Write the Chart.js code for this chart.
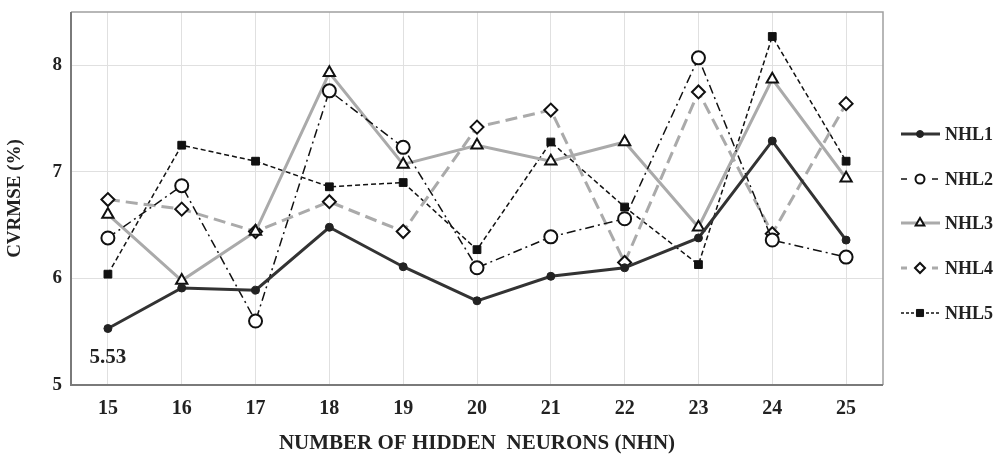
<!DOCTYPE html>
<html>
<head>
<meta charset="utf-8">
<script src="https://cdn.jsdelivr.net/npm/chart.js@4.4.0/dist/chart.umd.min.js"></script>
<style>
  html, body { margin: 0; padding: 0; background: #fff; }
  #wrap { width: 997px; height: 456px; position: relative; }
</style>
</head>
<body>
<div id="wrap"><canvas id="chart"></canvas></div>
<script>
// data
const neurons = ['15', '16', '17', '18', '19', '20', '21', '22', '23', '24', '25'];
const nhl1 = [5.53, 5.91, 5.89, 6.48, 6.11, 5.79, 6.02, 6.10, 6.38, 7.29, 6.36];
const nhl2 = [6.38, 6.87, 5.60, 7.76, 7.23, 6.10, 6.39, 6.56, 8.07, 6.36, 6.20];
const nhl3 = [6.60, 5.98, 6.44, 7.93, 7.07, 7.25, 7.10, 7.28, 6.48, 7.87, 6.94];
const nhl4 = [6.74, 6.65, 6.44, 6.72, 6.44, 7.42, 7.58, 6.15, 7.75, 6.42, 7.64];
const nhl5 = [6.04, 7.25, 7.10, 6.86, 6.90, 6.27, 7.28, 6.67, 6.13, 8.27, 7.10];
const yTicks = [5, 6, 7, 8];

const serif = '"Liberation Serif", "DejaVu Serif", serif';

const datasets = [
    { label: 'NHL1', data: nhl1, borderColor: '#333', borderWidth: 3, borderDash: [],
      pointStyle: 'circle', pointRadius: 4, pointBackgroundColor: '#222', pointBorderColor: '#222', pointBorderWidth: 1,
      legendDash: [], legendRadius: 3.5 },
    { label: 'NHL2', data: nhl2, borderColor: '#111', borderWidth: 1.5, borderDash: [9, 4, 2, 4],
      pointStyle: 'circle', pointRadius: 6.5, pointBackgroundColor: '#fff', pointBorderColor: '#111', pointBorderWidth: 2,
      legendDash: [6, 25], legendRadius: 4.5 },
    { label: 'NHL3', data: nhl3, borderColor: '#aaa', borderWidth: 3, borderDash: [],
      pointStyle: 'triangle', pointRadius: 6.5, pointBackgroundColor: '#fff', pointBorderColor: '#111', pointBorderWidth: 2,
      legendDash: [], legendRadius: 5 },
    { label: 'NHL4', data: nhl4, borderColor: '#aaa', borderWidth: 3, borderDash: [12, 6],
      pointStyle: 'rectRot', pointRadius: 6.5, pointBackgroundColor: '#fff', pointBorderColor: '#111', pointBorderWidth: 2,
      legendDash: [6, 25], legendRadius: 5 },
    { label: 'NHL5', data: nhl5, borderColor: '#111', borderWidth: 1.5, borderDash: [5, 3],
      pointStyle: 'rect', pointRadius: 5.5, pointBackgroundColor: '#111', pointBorderColor: '#111', pointBorderWidth: 1,
      legendDash: [3, 2], legendRadius: 5 }
];
datasets.forEach(d => { d.fill = false; d.tension = 0; });

// frame around the plot + annotation + legend with line and marker
const extras = {
    id: 'extras',
    afterDraw(chart) {
        const ctx = chart.ctx;
        const a = chart.chartArea;
        ctx.save();
        ctx.lineWidth = 1.5;
        ctx.strokeStyle = '#a0a0a0';
        ctx.beginPath();
        ctx.moveTo(a.left, a.top);
        ctx.lineTo(a.right, a.top);
        ctx.lineTo(a.right, a.bottom);
        ctx.stroke();
        ctx.lineWidth = 2;
        ctx.strokeStyle = '#7a7a7a';
        ctx.beginPath();
        ctx.moveTo(a.left, a.top);
        ctx.lineTo(a.left, a.bottom);
        ctx.lineTo(a.right, a.bottom);
        ctx.stroke();

        // "5.53" label under the first point
        const x = chart.scales.x.getPixelForValue(0);
        const y = chart.scales.y.getPixelForValue(nhl1[0]);
        ctx.fillStyle = '#222';
        ctx.font = 'bold 21px ' + serif;
        ctx.textAlign = 'center';
        ctx.textBaseline = 'middle';
        ctx.fillText('5.53', x, y + 29);

        // legend
        const rows = [134, 179, 223, 268, 313];
        ctx.font = 'bold 18px ' + serif;
        ctx.textAlign = 'left';
        datasets.forEach((d, i) => {
            const ly = rows[i];
            ctx.save();
            ctx.strokeStyle = d.borderColor;
            ctx.lineWidth = d.borderWidth;
            ctx.setLineDash(d.legendDash);
            ctx.beginPath();
            ctx.moveTo(901, ly);
            ctx.lineTo(940, ly);
            ctx.stroke();
            ctx.restore();
            ctx.save();
            ctx.fillStyle = d.pointBackgroundColor;
            ctx.strokeStyle = d.pointBorderColor;
            ctx.lineWidth = d.pointBorderWidth;
            Chart.helpers.drawPoint(ctx, { pointStyle: d.pointStyle, radius: d.legendRadius, rotation: 0, borderWidth: d.pointBorderWidth }, 920, ly);
            ctx.restore();
            ctx.fillStyle = '#222';
            ctx.fillText(d.label, 945, ly + 1);
        });
        ctx.restore();
    }
};

new Chart(document.getElementById('chart'), {
    type: 'line',
    data: { labels: neurons, datasets },
    options: {
        responsive: true,
        maintainAspectRatio: false,
        animation: false,
        layout: { padding: { left: 0, right: 114, top: 12, bottom: 0 } },
        plugins: { legend: { display: false }, tooltip: { enabled: false } },
        scales: {
            x: {
                offset: true,
                grid: { offset: false, color: '#e0e0e0', drawTicks: false },
                border: { display: false },
                ticks: { color: '#222', padding: 12, font: { family: serif, weight: 'bold', size: 20 } },
                title: { display: true, text: 'NUMBER OF HIDDEN  NEURONS (NHN)', color: '#222',
                         padding: { top: 4, bottom: 0 }, font: { family: serif, weight: 'bold', size: 21 } },
                afterFit(scale) { scale.height = 71; scale.paddingLeft = 0; scale.paddingRight = 0; }
            },
            y: {
                min: 5, max: 8.5,
                grid: { color: '#e0e0e0', drawTicks: false },
                border: { display: false },
                afterBuildTicks(scale) { scale.ticks = yTicks.map(v => ({ value: v })); },
                ticks: { color: '#222', padding: 9, font: { family: serif, weight: 'bold', size: 19 } },
                title: { display: true, text: 'CVRMSE (%)', color: '#222', padding: { bottom: 6 },
                         font: { family: serif, weight: 'bold', size: 19 } },
                afterFit(scale) { scale.width = 71; scale.paddingTop = 0; scale.paddingBottom = 0; }
            }
        }
    },
    plugins: [extras]
});
</script>
</body>
</html>
